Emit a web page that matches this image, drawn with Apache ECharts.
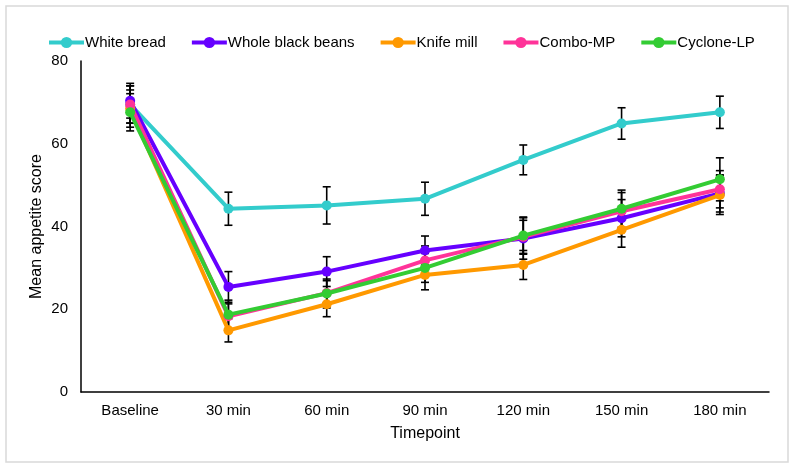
<!DOCTYPE html>
<html>
<head>
<meta charset="utf-8">
<script src="https://cdn.jsdelivr.net/npm/echarts@6/dist/echarts.min.js"></script>
<style>
html,body{margin:0;padding:0;background:#fff;}
#main{width:795px;height:471px;}
</style>
</head>
<body>
<div id="main"></div>
<script>
var categories = ['Baseline', '30 min', '60 min', '90 min', '120 min', '150 min', '180 min'];

var names = ['White bread', 'Whole black beans', 'Knife mill', 'Combo-MP', 'Cyclone-LP'];
var colors = ['#33CCCC', '#6600FF', '#FF9900', '#FF3399', '#33CC33'];

// mean scores
var whiteBread = [69.5, 44.3, 45.1, 46.7, 56.1, 64.9, 67.6];
var blackBeans = [70.4, 25.4, 29.1, 34.2, 37.1, 42.0, 48.0];
var knifeMill  = [68.5, 14.9, 21.2, 28.3, 30.7, 39.2, 47.6];
var comboMP    = [69.5, 18.3, 23.9, 31.8, 37.5, 43.7, 49.0];
var cycloneLP  = [67.6, 18.7, 23.8, 30.0, 37.8, 44.3, 51.4];

// error (+/-)
var whiteErr  = [4.5, 4.0, 4.5, 4.0, 3.6, 3.8, 3.9];
var beansErr  = [4.2, 3.7, 3.6, 3.5, 5.0, 4.5, 4.5];
var knifeErr  = [4.5, 2.8, 3.0, 3.6, 3.5, 4.2, 4.7];
var comboErr  = [4.5, 3.0, 3.0, 3.5, 4.0, 4.5, 4.5];
var cycloneErr = [4.5, 3.5, 3.5, 3.5, 4.5, 4.5, 5.2];

var yTicks = [0, 20, 40, 60, 80];

var means = [whiteBread, blackBeans, knifeMill, comboMP, cycloneLP];
var errs = [whiteErr, beansErr, knifeErr, comboErr, cycloneErr];

var myChart = echarts.init(document.getElementById('main'));

function errorBar(params, api) {
  var x = api.value(0);
  var lo = api.coord([x, api.value(1)]);
  var hi = api.coord([x, api.value(2)]);
  var half = 4;
  var st = {stroke: '#000', lineWidth: 1.6};
  return {
    type: 'group',
    children: [
      {type: 'line', shape: {x1: lo[0], y1: lo[1], x2: hi[0], y2: hi[1]}, style: st},
      {type: 'line', shape: {x1: lo[0] - half, y1: lo[1], x2: lo[0] + half, y2: lo[1]}, style: st},
      {type: 'line', shape: {x1: hi[0] - half, y1: hi[1], x2: hi[0] + half, y2: hi[1]}, style: st}
    ]
  };
}

var series = [];
// error bars first (under lines)
for (var s = 0; s < names.length; s++) {
  var d = [];
  for (var i = 0; i < categories.length; i++) {
    d.push([i, means[s][i] - errs[s][i], means[s][i] + errs[s][i]]);
  }
  series.push({
    type: 'custom',
    renderItem: errorBar,
    data: d,
    encode: {x: 0, y: [1, 2]},
    z: 1,
    silent: true
  });
}
for (var s = 0; s < names.length; s++) {
  series.push({
    name: names[s],
    type: 'line',
    data: means[s],
    symbol: 'circle',
    symbolSize: 10,
    lineStyle: {width: 4, color: colors[s]},
    itemStyle: {color: colors[s]},
    z: 2 + s
  });
}

var option = {
  animation: false,
  color: colors,
  graphic: [{
    type: 'rect',
    shape: {x: 6, y: 6, width: 782, height: 456},
    style: {fill: 'none', stroke: '#d9d9d9', lineWidth: 1.5},
    z: -1
  }],
  legend: {
    top: 30,
    left: 42,
    itemWidth: 35,
    itemHeight: 14,
    itemGap: 24,
    data: names,
    lineStyle: {width: 4},
    textStyle: {fontFamily: 'Liberation Sans', fontSize: 15, color: '#000', padding: [0, 0, 0, -4]}
  },
  grid: {left: 81, right: 26, top: 61, bottom: 79},
  xAxis: {
    type: 'category',
    data: categories,
    name: 'Timepoint',
    nameLocation: 'middle',
    nameGap: 34,
    nameTextStyle: {fontFamily: 'Liberation Sans', fontSize: 16, color: '#000'},
    axisLine: {lineStyle: {color: '#000', width: 1.5}},
    axisTick: {show: false},
    axisLabel: {fontFamily: 'Liberation Sans', fontSize: 15, color: '#000', margin: 11}
  },
  yAxis: {
    type: 'value',
    min: yTicks[0],
    max: yTicks[yTicks.length - 1],
    interval: 20,
    name: 'Mean appetite score',
    nameLocation: 'middle',
    nameGap: 36,
    nameMoveOverlap: false,
    nameTextStyle: {fontFamily: 'Liberation Sans', fontSize: 16, color: '#000'},
    axisLine: {show: true, lineStyle: {color: '#000', width: 1.5}},
    axisTick: {show: false},
    splitLine: {show: false},
    axisLabel: {fontFamily: 'Liberation Sans', fontSize: 15, color: '#000', margin: 13}
  },
  series: series
};

myChart.setOption(option);
</script>
</body>
</html>
